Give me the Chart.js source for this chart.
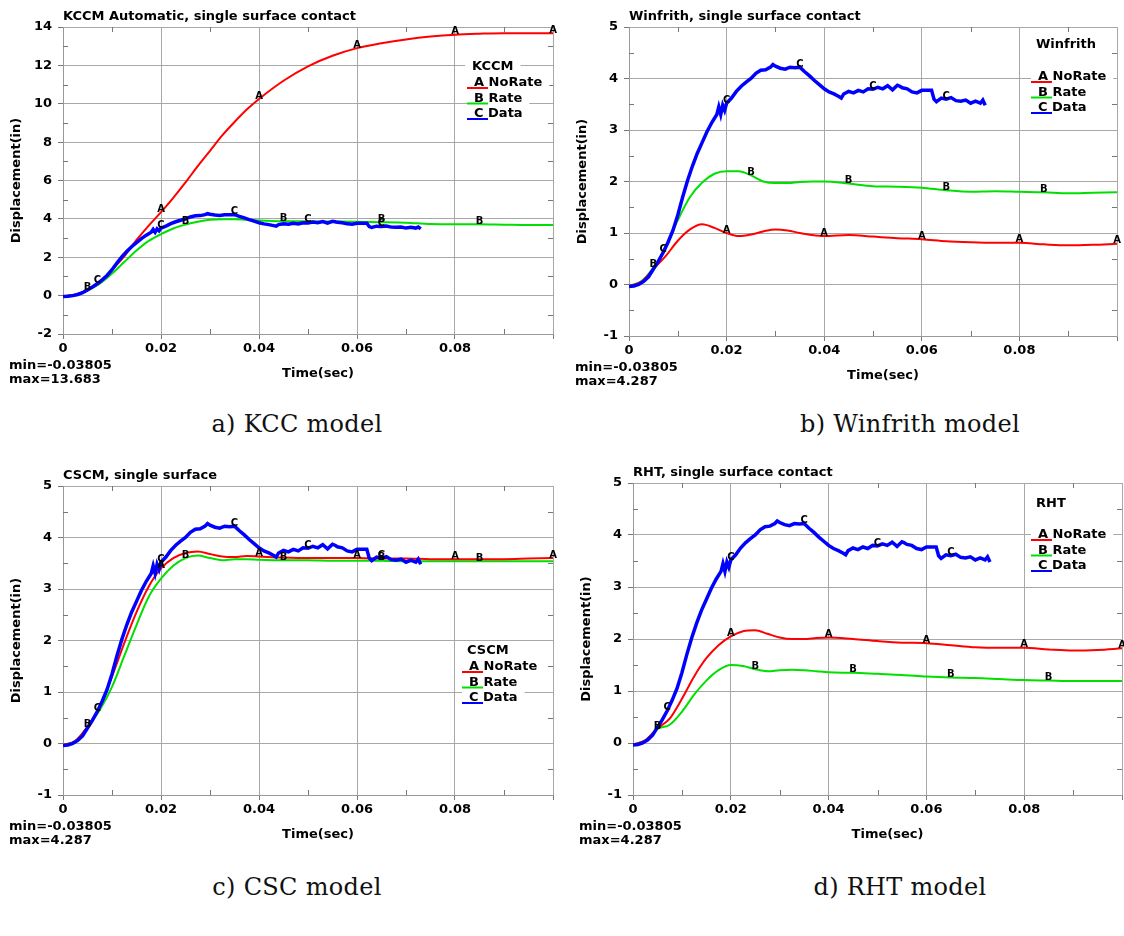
<!DOCTYPE html>
<html>
<head>
<meta charset="utf-8">
<script src="https://cdn.jsdelivr.net/npm/chart.js@4.4.0/dist/chart.umd.min.js"></script>
<style>
  body { margin: 0; background: #fff; width: 1124px; height: 936px; position: relative; overflow: hidden; }
  .panel { position: absolute; width: 562px; height: 392px; }
  .cap { position: absolute; font-family: "DejaVu Serif", serif; font-size: 24px; letter-spacing: 0.3px; color: #111; text-align: center; }
</style>
</head>
<body>
<div class="panel" style="left:0;top:0"><canvas id="kcc" width="562" height="392"></canvas></div>
<div class="panel" style="left:562px;top:0"><canvas id="win" width="562" height="392"></canvas></div>
<div class="panel" style="left:0;top:460px"><canvas id="csc" width="562" height="392"></canvas></div>
<div class="panel" style="left:562px;top:460px"><canvas id="rht" width="562" height="392"></canvas></div>
<div class="cap" style="left:0;width:594px;top:410px">a) KCC model</div>
<div class="cap" style="left:610px;width:600px;top:410px">b) Winfrith model</div>
<div class="cap" style="left:0;width:594px;top:873px">c) CSC model</div>
<div class="cap" style="left:600px;width:600px;top:873px">d) RHT model</div>
<script>
'use strict';

// time steps for the simulated curves (sec)
const modelTime = [0, 0.0025, 0.005, 0.0075, 0.01, 0.0125, 0.015, 0.0175, 0.02, 0.0225, 0.025, 0.0275, 0.03, 0.0325,
  0.035, 0.0375, 0.04, 0.045, 0.05, 0.055, 0.06, 0.065, 0.07, 0.075, 0.08, 0.085, 0.09, 0.095, 0.1];

// displacement (in)
const kccNoRate = [-0.03, 0.05, 0.3, 0.72, 1.35, 2.05, 2.9, 3.65, 4.35, 5.1, 5.9, 6.75, 7.55, 8.35,
  9.05, 9.7, 10.25, 11.2, 11.95, 12.5, 12.9, 13.15, 13.35, 13.5, 13.6, 13.65, 13.68, 13.68, 13.68];
const kccRate = [-0.03, 0.05, 0.28, 0.62, 1.15, 1.75, 2.35, 2.85, 3.2, 3.5, 3.7, 3.85, 3.95, 3.98,
  3.98, 3.95, 3.92, 3.88, 3.87, 3.86, 3.85, 3.83, 3.8, 3.73, 3.72, 3.72, 3.7, 3.68, 3.68];

const winNoRate = [-0.03, 0.05, 0.3, 0.55, 0.85, 1.07, 1.17, 1.1, 1.0, 0.94, 0.97, 1.03, 1.07, 1.05,
  1.0, 0.96, 0.94, 0.96, 0.93, 0.9, 0.88, 0.84, 0.82, 0.81, 0.81, 0.78, 0.76, 0.77, 0.79];
const winRate = [-0.03, 0.06, 0.33, 0.72, 1.25, 1.7, 1.98, 2.15, 2.2, 2.2, 2.12, 2.0, 1.97, 1.97,
  1.99, 2.0, 2.0, 1.96, 1.91, 1.9, 1.88, 1.83, 1.8, 1.81, 1.8, 1.79, 1.77, 1.78, 1.79];

const cscNoRate = [-0.03, 0.05, 0.33, 0.72, 1.3, 1.95, 2.55, 3.05, 3.4, 3.6, 3.7, 3.73, 3.68, 3.63,
  3.62, 3.64, 3.63, 3.61, 3.6, 3.6, 3.6, 3.59, 3.59, 3.58, 3.58, 3.58, 3.58, 3.59, 3.6];
const cscRate = [-0.03, 0.05, 0.32, 0.65, 1.1, 1.7, 2.3, 2.85, 3.2, 3.45, 3.6, 3.65, 3.6, 3.56,
  3.58, 3.58, 3.57, 3.56, 3.56, 3.55, 3.55, 3.55, 3.54, 3.54, 3.54, 3.54, 3.54, 3.54, 3.54];

const rhtNoRate = [-0.03, 0.05, 0.28, 0.47, 0.85, 1.28, 1.63, 1.88, 2.05, 2.15, 2.17, 2.1, 2.03, 2.0,
  2.0, 2.02, 2.03, 2.0, 1.96, 1.93, 1.92, 1.88, 1.84, 1.83, 1.83, 1.8, 1.78, 1.79, 1.82];
const rhtRate = [-0.03, 0.05, 0.27, 0.35, 0.6, 0.93, 1.2, 1.4, 1.5, 1.48, 1.42, 1.38, 1.4, 1.41,
  1.4, 1.38, 1.36, 1.35, 1.33, 1.31, 1.28, 1.26, 1.25, 1.23, 1.21, 1.2, 1.19, 1.19, 1.19];

// measured test data (same in every panel)
const dataTime = [0, 0.001, 0.002, 0.003, 0.004, 0.005, 0.006, 0.007, 0.008, 0.009, 0.010, 0.011, 0.012, 0.013,
  0.014, 0.015, 0.016, 0.017, 0.018, 0.0184, 0.0188, 0.0192, 0.0196, 0.020, 0.021, 0.022, 0.023, 0.024, 0.025,
  0.026, 0.027, 0.028, 0.029, 0.0295, 0.030, 0.031, 0.032, 0.033, 0.034, 0.035, 0.036, 0.037, 0.038, 0.039,
  0.040, 0.041, 0.042, 0.043, 0.0435, 0.044, 0.045, 0.046, 0.047, 0.048, 0.049, 0.050, 0.051, 0.052, 0.053,
  0.054, 0.055, 0.0555, 0.056, 0.057, 0.058, 0.059, 0.060, 0.061, 0.062, 0.0625, 0.063, 0.064, 0.065, 0.066,
  0.067, 0.068, 0.069, 0.070, 0.071, 0.072, 0.0725, 0.073];
const dataDisp = [-0.04, -0.03, 0.0, 0.06, 0.15, 0.3, 0.45, 0.62, 0.82, 1.05, 1.35, 1.7, 2.02, 2.3,
  2.55, 2.76, 2.97, 3.15, 3.3, 3.45, 3.3, 3.48, 3.38, 3.52, 3.62, 3.75, 3.85, 3.93, 4.0,
  4.1, 4.16, 4.17, 4.22, 4.27, 4.24, 4.2, 4.18, 4.22, 4.21, 4.22, 4.13, 4.05, 3.96, 3.88,
  3.8, 3.74, 3.7, 3.65, 3.62, 3.7, 3.75, 3.72, 3.77, 3.74, 3.8, 3.79, 3.83, 3.8, 3.86,
  3.78, 3.87, 3.85, 3.82, 3.8, 3.74, 3.72, 3.77, 3.77, 3.77, 3.6, 3.55, 3.62, 3.6, 3.63,
  3.57, 3.56, 3.58, 3.52, 3.56, 3.52, 3.58, 3.48];

// where the curve letters sit
const markA = [0.02, 0.04, 0.06, 0.08, 0.1];
const markB = [0.005, 0.025, 0.045, 0.065, 0.085];
const markC = [0.007, 0.02, 0.035, 0.05, 0.065];

const minText = 'min=-0.03805';

const FONT = '"DejaVu Sans", sans-serif';

function pairs(xs, ys) {
  return xs.map((x, i) => ({ x: x, y: ys[i] }));
}

function interp(pts, x) {
  for (let i = 1; i < pts.length; i++) {
    if (x <= pts[i].x) {
      const a = pts[i - 1], b = pts[i];
      return a.y + (b.y - a.y) * (x - a.x) / (b.x - a.x);
    }
  }
  return pts[pts.length - 1].y;
}

function txt(ctx, s, x, y, size, align, bg) {
  ctx.font = 'bold ' + size + 'px ' + FONT;
  ctx.textAlign = align || 'left';
  ctx.textBaseline = 'middle';
  if (bg) {
    const w = ctx.measureText(s).width;
    const x0 = align === 'center' ? x - w / 2 : x;
    ctx.fillStyle = '#fff';
    ctx.fillRect(x0 - 7, y - 7, w + 14, 14);
  }
  ctx.fillStyle = '#000';
  ctx.fillText(s, x, y);
}

// draws titles, minor ticks, curve letters and the small legend
const decor = {
  id: 'decor',
  afterDraw(chart) {
    const o = chart.options.plugins.decor;
    const ctx = chart.ctx;
    const a = chart.chartArea;
    const xs = chart.scales.x, ys = chart.scales.y;
    ctx.save();

    // minor ticks
    ctx.strokeStyle = '#777';
    ctx.lineWidth = 1;
    ctx.beginPath();
    for (let t = 0.01; t < 0.1; t += 0.02) {
      const px = Math.round(xs.getPixelForValue(t)) + 0.5;
      ctx.moveTo(px, a.bottom); ctx.lineTo(px, a.bottom - 5);
      ctx.moveTo(px, a.top); ctx.lineTo(px, a.top + 5);
    }
    for (let v = ys.min + o.step / 2; v < ys.max; v += o.step) {
      const py = Math.round(ys.getPixelForValue(v)) + 0.5;
      ctx.moveTo(a.left, py); ctx.lineTo(a.left + 5, py);
      ctx.moveTo(a.right, py); ctx.lineTo(a.right - 5, py);
    }
    ctx.stroke();

    // curve letters
    const ds = chart.data.datasets;
    const marks = [[ds[1].data, markA, 'A'], [ds[2].data, markB, 'B'], [ds[0].data, markC, 'C']];
    marks.forEach(m => {
      m[1].forEach(x => {
        const px = xs.getPixelForValue(x);
        const py = ys.getPixelForValue(interp(m[0], x));
        txt(ctx, m[2], px, py - 3, 10, 'center');
      });
    });

    // titles
    txt(ctx, o.title, a.left, a.top - 10, 13, 'left');
    txt(ctx, 'Time(sec)', (a.left + a.right) / 2 + 10, a.bottom + 40, 13, 'center');
    ctx.save();
    ctx.translate(a.left - 46, (a.top + a.bottom) / 2);
    ctx.rotate(-Math.PI / 2);
    txt(ctx, 'Displacement(in)', 0, 0, 13, 'center');
    ctx.restore();
    txt(ctx, minText, a.left - 54, a.bottom + 32, 13, 'left');
    txt(ctx, o.maxText, a.left - 54, a.bottom + 46, 13, 'left');

    // legend
    const lx = a.right - o.legX;
    txt(ctx, o.model, lx - 2, a.top + o.legHead, 13, 'left', true);
    const rows = [['A NoRate', '#ff0000'], ['B Rate', '#00e000'], ['C Data', '#0000ff']];
    rows.forEach((r, i) => {
      const y = a.top + o.legRow + i * 15.5;
      txt(ctx, r[0], lx, y, 13, 'left', true);
      ctx.strokeStyle = r[1];
      ctx.lineWidth = 2;
      ctx.beginPath();
      ctx.moveTo(lx - 7, y + 5);
      ctx.lineTo(lx + 14, y + 5);
      ctx.stroke();
    });
    ctx.restore();
  }
};

function makeChart(id, p) {
  const W = 562, H = 392;
  const tickFont = { family: FONT, weight: 'bold', size: 13 };
  return new Chart(document.getElementById(id), {
    type: 'line',
    data: {
      datasets: [
        { label: 'C Data', data: pairs(dataTime, dataDisp), borderColor: '#0000ff', borderWidth: 3.5, tension: 0, order: 0 },
        { label: 'A NoRate', data: pairs(modelTime, p.noRate), borderColor: '#ff0000', borderWidth: 2,
          cubicInterpolationMode: 'monotone', order: 1 },
        { label: 'B Rate', data: pairs(modelTime, p.rate), borderColor: '#00e000', borderWidth: 2,
          cubicInterpolationMode: 'monotone', order: 2 }
      ]
    },
    options: {
      responsive: false,
      animation: false,
      elements: { point: { radius: 0 } },
      layout: { padding: { left: 0, top: p.area[1], right: W - p.area[2], bottom: 0 } },
      plugins: {
        legend: { display: false },
        tooltip: { enabled: false },
        decor: { title: p.title, model: p.model, maxText: p.maxText, step: p.step,
          legX: p.legX, legHead: p.legHead, legRow: p.legRow }
      },
      scales: {
        x: {
          type: 'linear', min: 0, max: 0.1,
          afterFit: s => { s.height = H - p.area[3]; },
          grid: { color: '#a8a8a8', tickColor: '#777', tickLength: 5 },
          border: { color: '#999' },
          ticks: {
            stepSize: 0.02, autoSkip: false, padding: 2, color: '#000', font: tickFont,
            callback: v => (Math.abs(v - 0.1) < 1e-9 ? '' : String(+v.toFixed(2)))
          }
        },
        y: {
          min: p.yMin, max: p.yMax,
          afterFit: s => { s.width = p.area[0]; },
          grid: { color: '#a8a8a8', tickColor: '#777', tickLength: 5 },
          border: { color: '#999' },
          ticks: { stepSize: p.step, padding: 6, color: '#000', font: tickFont }
        }
      }
    },
    plugins: [decor]
  });
}

makeChart('kcc', { noRate: kccNoRate, rate: kccRate, title: 'KCCM Automatic, single surface contact', model: 'KCCM',
  maxText: 'max=13.683', yMin: -2, yMax: 14, step: 2, area: [63, 27, 553, 334], legX: 79, legHead: 40, legRow: 56 });
makeChart('win', { noRate: winNoRate, rate: winRate, title: 'Winfrith, single surface contact', model: 'Winfrith',
  maxText: 'max=4.287', yMin: -1, yMax: 5, step: 1, area: [67, 27, 555, 336], legX: 79, legHead: 18, legRow: 50 });
makeChart('csc', { noRate: cscNoRate, rate: cscRate, title: 'CSCM, single surface', model: 'CSCM',
  maxText: 'max=4.287', yMin: -1, yMax: 5, step: 1, area: [63, 26, 553, 335], legX: 84, legHead: 165, legRow: 181 });
makeChart('rht', { noRate: rhtNoRate, rate: rhtRate, title: 'RHT, single surface contact', model: 'RHT',
  maxText: 'max=4.287', yMin: -1, yMax: 5, step: 1, area: [71, 23, 560, 335], legX: 84, legHead: 21, legRow: 52 });
</script>
</body>
</html>
